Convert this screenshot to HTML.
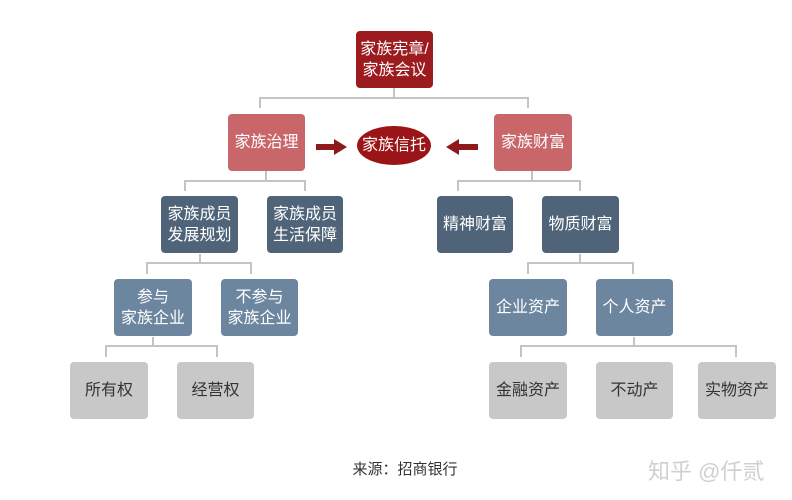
<!DOCTYPE html>
<html><head><meta charset="utf-8"><style>
body{margin:0;width:792px;height:500px;background:#fff;position:relative;overflow:hidden;font-family:"Liberation Sans","Noto Sans CJK SC",sans-serif}
.b{position:absolute;display:flex;align-items:center;justify-content:center;text-align:center;border-radius:4px;font-size:16px;line-height:21px;color:#fff}
.r1{background:#9c1b1f}.r2{background:#c8666a}.d{background:#4f6479}.m{background:#6c86a0}.g{background:#c8c8c8;color:#333}
svg{position:absolute;left:0;top:0}
</style></head><body>
<svg width="792" height="500">
<g stroke="#c4c4c4" stroke-width="2" fill="none">
<path d="M394 88V98M260 108V98H528V108"/>
<path d="M266 171V181M185 191V181H305V191"/>
<path d="M532 171V181M458 191V181H580V191"/>
<path d="M200 254V263M147 274V263H251V274"/>
<path d="M580 254V263M528 274V263H633V274"/>
<path d="M153 337V346M106 357V346H217V357"/>
<path d="M634 337V346M521 357V346H736V357"/>
</g>
<g fill="#8e1a1c">
<rect x="316" y="144" width="20" height="6"/><polygon points="334,139 347,147 334,155"/>
<rect x="457" y="144" width="21" height="6"/><polygon points="459,139 446,147 459,155"/>
</g>
<ellipse cx="394" cy="145.5" rx="37" ry="19.5" fill="#9b1518"/>
</svg>
<div class="b r1" style="left:356px;top:31px;width:77px;height:57px">家族宪章/<br>家族会议</div>
<div class="b r2" style="left:228px;top:114px;width:77px;height:57px">家族治理</div>
<div class="b r2" style="left:494px;top:114px;width:78px;height:57px">家族财富</div>
<div class="b" style="left:357px;top:126px;width:74px;height:39px;background:none">家族信托</div>
<div class="b d" style="left:161px;top:196px;width:77px;height:57px">家族成员<br>发展规划</div>
<div class="b d" style="left:267px;top:196px;width:76px;height:57px">家族成员<br>生活保障</div>
<div class="b d" style="left:437px;top:196px;width:76px;height:57px">精神财富</div>
<div class="b d" style="left:542px;top:196px;width:77px;height:57px">物质财富</div>
<div class="b m" style="left:114px;top:279px;width:78px;height:57px">参与<br>家族企业</div>
<div class="b m" style="left:221px;top:279px;width:77px;height:57px">不参与<br>家族企业</div>
<div class="b m" style="left:489px;top:279px;width:78px;height:57px">企业资产</div>
<div class="b m" style="left:596px;top:279px;width:77px;height:57px">个人资产</div>
<div class="b g" style="left:70px;top:362px;width:78px;height:57px">所有权</div>
<div class="b g" style="left:177px;top:362px;width:77px;height:57px">经营权</div>
<div class="b g" style="left:489px;top:362px;width:78px;height:57px">金融资产</div>
<div class="b g" style="left:596px;top:362px;width:77px;height:57px">不动产</div>
<div class="b g" style="left:698px;top:362px;width:78px;height:57px">实物资产</div>
<div style="position:absolute;left:340px;top:458px;width:130px;font-size:15px;color:#333;text-align:center">来源：招商银行</div>
<div style="position:absolute;left:648px;top:454px;font-size:22px;color:#d0d0d0;white-space:nowrap">知乎 @仟贰</div>
</body></html>
